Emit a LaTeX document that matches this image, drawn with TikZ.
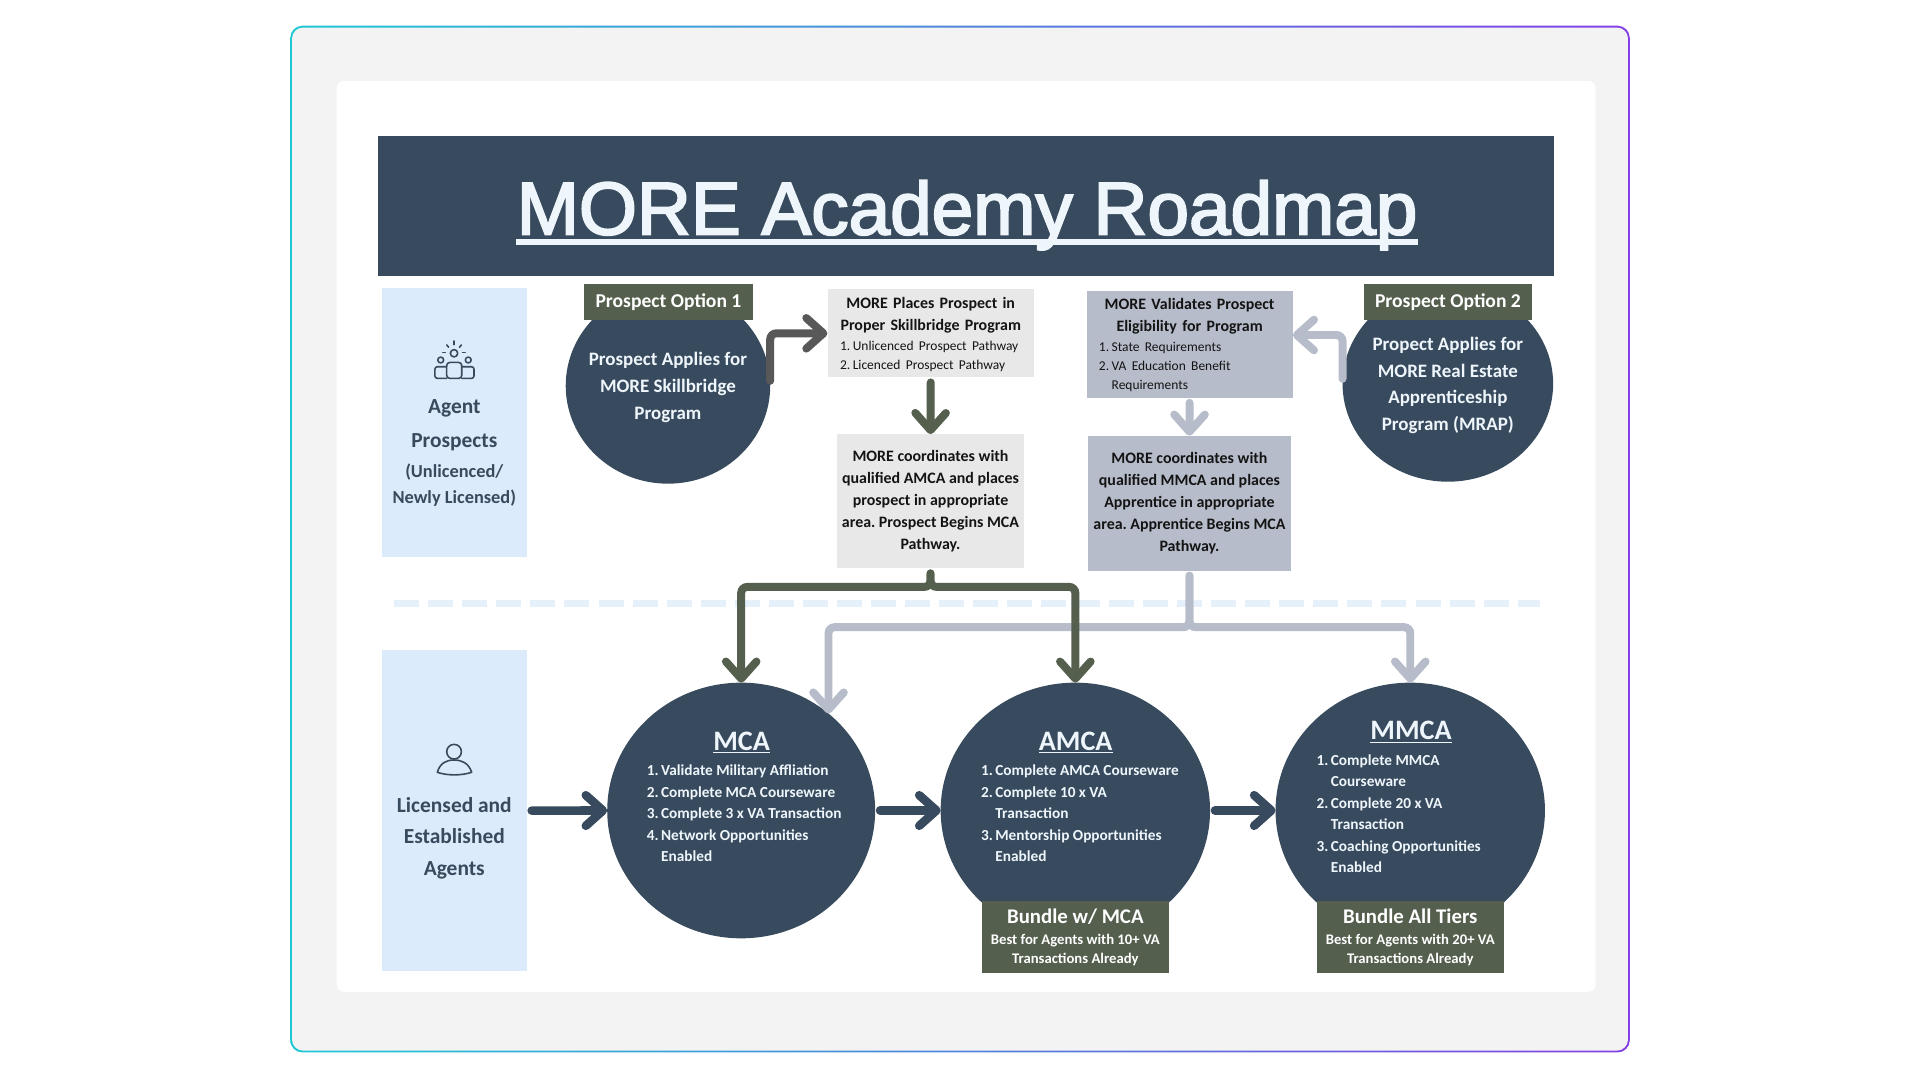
\documentclass[tikz,border=0pt]{standalone}
\usepackage{fontspec}
\setmainfont{Carlito}
\newfontfamily\headfont{Liberation Sans}
\usetikzlibrary{shapes.geometric,arrows.meta,positioning,calc}
\frenchspacing

\definecolor{slate}{RGB}{56,74,93}
\definecolor{moss}{RGB}{84,95,77}
\definecolor{steel}{RGB}{182,188,201}
\definecolor{fog}{RGB}{232,232,232}
\definecolor{sky}{RGB}{220,235,252}
\definecolor{frost}{RGB}{238,246,252}
\definecolor{ash}{RGB}{88,88,88}
\definecolor{ink}{RGB}{20,20,20}
\definecolor{paper}{RGB}{243,243,243}
\definecolor{seam}{RGB}{229,240,251}
\definecolor{rimA}{RGB}{28,200,212}
\definecolor{rimB}{RGB}{132,64,230}

\tikzstyle{panel} = [fill=sky,inner sep=0,minimum width=118pt]
\tikzstyle{tag} = [fill=moss,text=white,inner sep=0,align=center,font=\bfseries\fontsize{16}{19}\selectfont]
\tikzstyle{blob} = [ellipse,fill=slate,inner sep=0,outer sep=0]
\tikzstyle{card} = [inner sep=0,text=ink,align=center,font=\bfseries\fontsize{13}{18}\selectfont]
\tikzstyle{blurb} = [inner sep=0,text=frost,align=center,font=\bfseries\fontsize{15.5}{22}\selectfont]
\tikzstyle{head} = [anchor=base,inner sep=0,text=frost,font=\bfseries\fontsize{23}{26}\selectfont]
\tikzstyle{tasks} = [anchor=base west,inner sep=0,text=frost,font=\bfseries\fontsize{12.5}{17.5}\selectfont]
\tikzstyle{icon} = [draw=slate,line width=1.3pt,line cap=round,line join=round]
\tikzstyle{divider} = [seam,line width=6pt,dash pattern=on 20.4pt off 7.4pt]
\tikzstyle{link} = [line width=6.5pt,line cap=round,rounded corners=5pt,shorten <=4pt,-{Straight Barb[round,length=14pt,width=25pt]}]
\newcommand{\numlist}[1]{\begin{tabular}[t]{@{}r@{\hspace{2pt}}l@{}}#1\end{tabular}}
\newcommand{\smalllist}{\mdseries\fontsize{11}{15.5}\selectfont}
\newcommand{\heavy}[1]{\special{pdf:literal direct 2 Tr 1.6 w}#1\special{pdf:literal direct 0 Tr}}

\begin{document}
\begin{tikzpicture}[x=1pt,y=-1pt]
\useasboundingbox (0,0) rectangle (1568,882);
% frame and card
\shade[left color=rimA,right color=rimB,rounded corners=10pt] (237,21) rectangle (1331,859.5);
\fill[paper,rounded corners=9pt] (238.5,22.5) rectangle (1329.5,858);
\fill[white,rounded corners=6pt] (275,66) rectangle (1303,810);

% banner
\node[fill=slate,inner sep=0,minimum width=960pt,minimum height=114pt] (banner) at (789,168) {};
\node[anchor=base,inner sep=0,text=frost,font=\headfont\fontsize{61}{70}\selectfont] (heading) at (789.8,191.5) {\heavy{MORE Academy Roadmap}};
\fill[frost] ([yshift=-3.7pt]heading.base west) rectangle ([yshift=-8.5pt]heading.base east);

% lanes
\node[panel,minimum height=220pt] (prosp) at (371,345) {};
\node[panel,minimum height=262.5pt] (agents) at (371,662) {};
\draw[divider] (322,493) -- (1258,493);

\node[text=slate,align=center,inner sep=0,font=\bfseries\fontsize{15}{21.8}\selectfont] (prospT) at (371,370.2)
  {{\fontsize{17.5}{21}\selectfont Agent}\\[5.5pt]{\fontsize{17.5}{21}\selectfont Prospects}\\[2.7pt](Unlicenced/\\Newly Licensed)};
\node[text=slate,align=center,inner sep=0,font=\bfseries\fontsize{17.5}{25.5}\selectfont] (agentsT) at (371,684.5)
  {Licensed and\\Established\\Agents};

% group icon
\draw[icon] (370.8,288.5) circle (3);
\draw[icon] (359.9,294) circle (2.4);
\draw[icon] (382.4,294) circle (2.4);
\draw[icon,rounded corners=2.5pt] (364.8,309) -- (364.8,296) -- (377.1,296) -- (377.1,309) -- cycle;
\draw[icon,rounded corners=2pt] (364.8,299.5) -- (355.2,299.5) -- (355.2,309) -- (364.8,309);
\draw[icon,rounded corners=2pt] (377.1,299.5) -- (387.1,299.5) -- (387.1,309) -- (377.1,309);
\draw[icon] (370.8,278.5) -- (370.8,281.5);
\draw[icon] (364.8,281.7) -- (366.4,283.6);
\draw[icon] (376.8,281.7) -- (375.2,283.6);
\draw[icon] (361.5,288) -- (363.7,288);
\draw[icon] (377.8,288) -- (380,288);

% person icon
\draw[icon] (370.8,613.9) circle (6);
\draw[icon] (357.1,630.7) .. controls (359.5,623) and (364.5,620.7) .. (370.8,620.7)
  .. controls (377.1,620.7) and (382.6,623) .. (385.2,630.7)
  .. controls (377,633.5) and (365,633.5) .. (357.1,630.7) -- cycle;

% option 1
\node[blob,minimum width=167pt,minimum height=160pt] (c1) at (545.5,315) {};
\node[tag,minimum width=137.7pt,minimum height=29pt] (opt1) at (545.9,246.8) {Prospect Option 1};
\node[blurb] (c1T) at (545.5,316.5) {Prospect Applies for\\MORE Skillbridge\\Program};

\node[card,fill=fog,minimum width=168.4pt,minimum height=71.8pt,text width=148pt] (places) at (760.1,272.2)
  {\rule{0pt}{14pt}MORE Places Prospect in\\Proper Skillbridge Program\\[-1.4pt]\makebox[\hsize][l]{\smalllist\numlist{1.&Unlicenced Prospect Pathway\\2.&Licenced Prospect Pathway}}};
\node[card,fill=fog,minimum width=152.8pt,minimum height=109.4pt] (coordA) at (759.9,409.4)
  {MORE coordinates with\\qualified AMCA and places\\prospect in appropriate\\area. Prospect Begins MCA\\Pathway.};

% option 2
\node[blob,minimum width=172pt,minimum height=160pt] (c2) at (1182.4,313.4) {};
\node[tag,minimum width=137pt,minimum height=29pt] (opt2) at (1182.5,246.7) {Prospect Option 2};
\node[blurb] (c2T) at (1182.4,314.8) {Propect Applies for\\MORE Real Estate\\Apprenticeship\\Program (MRAP)};

\node[card,fill=steel,minimum width=168.3pt,minimum height=87.4pt,text width=148pt] (val) at (971.5,281.1)
  {\rule{0pt}{13pt}MORE Validates Prospect\\Eligibility for Program\\[-1.4pt]\makebox[\hsize][l]{\smalllist\numlist{1.&State Requirements\\2.&VA Education Benefit\\&Requirements}}};
\node[card,fill=steel,minimum width=165.2pt,minimum height=110pt] (coordB) at (971.4,411)
  {MORE coordinates with\\qualified MMCA and places\\Apprentice in appropriate\\area. Apprentice Begins MCA\\Pathway.};

% tiers
\node[blob,minimum width=218.8pt,minimum height=208.8pt] (mca) at (605.3,661.9) {};
\node[blob,minimum width=220pt,minimum height=208.8pt,right=53.5pt of mca] (amca) {};
\node[blob,minimum width=220pt,minimum height=208.8pt,right=53.5pt of amca] (mmca) {};

\node[head] (mcaHead) at (605.6,612.5) {\underline{MCA}};
\node[tasks] (mcaList) at (528,633.6) {\numlist{1.&Validate Military Affliation\\2.&Complete MCA Courseware\\3.&Complete 3 x VA Transaction\\4.&Network Opportunities\\&Enabled}};
\node[head] (amcaHead) at (878.5,612.5) {\underline{AMCA}};
\node[tasks] (amcaList) at (801,633.6) {\numlist{1.&Complete AMCA Courseware\\2.&Complete 10 x VA\\&Transaction\\3.&Mentorship Opportunities\\&Enabled}};
\node[head] (mmcaHead) at (1152.3,604.3) {\underline{MMCA}};
\node[tasks] (mmcaList) at (1075,625) {\numlist{1.&Complete MMCA\\&Courseware\\2.&Complete 20 x VA\\&Transaction\\3.&Coaching Opportunities\\&Enabled}};

\node[tag,font=\bfseries\fontsize{12}{15.5}\selectfont,minimum width=152.4pt,minimum height=58.4pt,anchor=south,yshift=-28.5pt] (bundleA) at (amca.south)
  {{\fontsize{17}{20}\selectfont Bundle w/ MCA}\\[1.8pt]Best for Agents with 10+ VA\\Transactions Already};
\node[tag,font=\bfseries\fontsize{12}{15.5}\selectfont,minimum width=153pt,minimum height=58.4pt,anchor=south,yshift=-28.5pt] (bundleB) at (mmca.south)
  {{\fontsize{17}{20}\selectfont Bundle All Tiers}\\[1.8pt]Best for Agents with 20+ VA\\Transactions Already};

% connectors
\draw[link,ash] (c1.east) |- (places.west);
\draw[link,moss] (places.south) -- (coordA.north);
\draw[link,steel] (c2.west) |- ([yshift=7.5pt]val.east);
\draw[link,steel] (val.south) -- (coordB.north);
\draw[link,steel] (coordB.south) -- ++(0,46) -| (mca.48);
\draw[link,steel] (coordB.south) -- ++(0,46) -| (mmca.north);
\draw[link,moss] (coordA.south) -- ++(0,15) -| (mca.north);
\draw[link,moss] (coordA.south) -- ++(0,15) -| (amca.north);
\draw[link,slate,line width=7pt] (agents.east) -- (mca.west);
\draw[link,slate,line width=7pt] (mca.east) -- (amca.west);
\draw[link,slate,line width=7pt] (amca.east) -- (mmca.west);
\end{tikzpicture}
\end{document}
